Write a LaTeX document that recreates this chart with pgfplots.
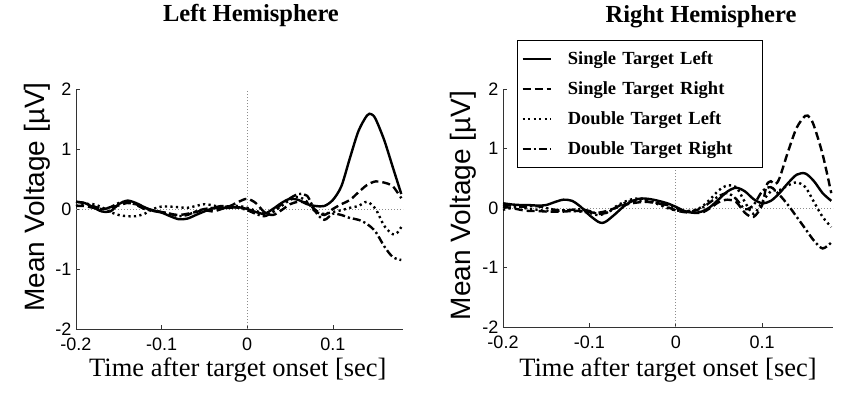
\documentclass[border=0pt]{standalone}
\usepackage{fontspec}
\setmainfont{Liberation Serif}
\newfontfamily\arial{Liberation Sans}
\usepackage{pgfplots}
\pgfplotsset{compat=1.18}

\pgfplotsset{
  erp/.style={
    scale only axis,
    xmin=-0.2, xmax=0.182,
    ymin=-2, ymax=2,
    axis x line*=bottom, axis y line*=left,
    axis line style={-, line width=0.8pt, black!80},
    xtick={-0.2,-0.1,0,0.1},
    xticklabels={-0.2,-0.1,0,0.1},
    ytick={-2,-1,0,1,2},
    yticklabels={-2,-1,0,1,2},
    tick align=inside,
    major tick length=4pt,
    tick style={black!80, line width=0.6pt},
    ticklabel style={font=\arial\fontsize{18}{20}\selectfont},
    xticklabel style={yshift=-5pt},
    yticklabel style={xshift=-1pt},
    xlabel={Time after target onset [sec]},
    ylabel={Mean Voltage [\textmu V]},
    xlabel style={font=\fontsize{26.5}{29}\selectfont},
    ylabel style={font=\arial\fontsize{28}{30}\selectfont},
    title style={font=\bfseries\fontsize{24.5}{27}\selectfont},
    clip=false,
  },
  s1/.style={black, line width=2.4pt, smooth},
  s2/.style={black, line width=2.4pt, smooth, dash pattern=on 8pt off 4pt},
  d1/.style={black, line width=2.4pt, smooth, dash pattern=on 2.2pt off 3.3pt},
  d2/.style={black, line width=2.4pt, smooth, dash pattern=on 8pt off 3pt on 2.2pt off 3pt},
  ref/.style={black!45, line width=0.7pt, dash pattern=on 1.2pt off 1.8pt, forget plot},
}

\begin{document}
\begin{tikzpicture}
\path (0pt,0pt) rectangle (850pt,405pt);
\begin{pgfinterruptboundingbox}
% ---------------- Left Hemisphere ----------------
\begin{axis}[erp,
  at={(76pt,76pt)}, anchor=south west,
  width=327pt, height=240pt,
  title={Left Hemisphere},
  title style={at={(axis description cs:0.535,1.28)}, anchor=center},
  xlabel style={at={(axis description cs:0.495,-0.172)}, anchor=center},
  ylabel style={at={(axis description cs:-0.117,0.55)}, anchor=center},
]
\addplot[ref] coordinates {(0,-2) (0,2)};
\addplot[ref] coordinates {(-0.2,0) (0.182,0)};
% Single Target Left
\addplot[s1] coordinates {
(-0.20,0.12) (-0.19,0.10) (-0.18,0.03) (-0.17,-0.04) (-0.16,-0.04) (-0.15,0.08)
(-0.14,0.14) (-0.13,0.10) (-0.12,0.03) (-0.11,-0.03) (-0.10,-0.06) (-0.09,-0.12)
(-0.08,-0.17) (-0.07,-0.16) (-0.06,-0.10) (-0.05,-0.04) (-0.04,0.01) (-0.03,0.02)
(-0.02,0.02) (-0.01,0.03) (0.00,0.00) (0.01,-0.05) (0.02,-0.08) (0.03,0.00)
(0.04,0.10) (0.05,0.17) (0.06,0.15) (0.07,0.08) (0.08,0.05) (0.09,0.05)
(0.10,0.15) (0.11,0.38) (0.12,0.85) (0.13,1.30) (0.14,1.56) (0.145,1.58)
(0.15,1.50) (0.16,1.15) (0.17,0.70) (0.18,0.25)};
% Single Target Right
\addplot[s2] coordinates {
(-0.20,0.05) (-0.19,0.05) (-0.18,0.02) (-0.17,0.00) (-0.16,0.02) (-0.15,0.06)
(-0.14,0.10) (-0.13,0.08) (-0.12,0.02) (-0.11,-0.02) (-0.10,-0.05) (-0.09,-0.08)
(-0.08,-0.10) (-0.07,-0.08) (-0.06,-0.05) (-0.05,-0.02) (-0.04,-0.04) (-0.03,0.00)
(-0.02,0.05) (-0.01,0.12) (0.00,0.17) (0.01,0.10) (0.02,-0.05) (0.03,-0.10)
(0.04,-0.02) (0.05,0.08) (0.06,0.12) (0.07,0.10) (0.08,-0.02) (0.09,-0.10)
(0.10,0.00) (0.11,0.08) (0.12,0.15) (0.13,0.28) (0.14,0.40) (0.15,0.46)
(0.16,0.44) (0.17,0.38) (0.18,0.18)};
% Double Target Left
\addplot[d1] coordinates {
(-0.20,0.05) (-0.19,0.08) (-0.18,0.08) (-0.17,0.03) (-0.16,-0.05) (-0.15,-0.10)
(-0.14,-0.12) (-0.13,-0.12) (-0.12,-0.08) (-0.11,0.00) (-0.10,0.04) (-0.09,0.04)
(-0.08,0.03) (-0.07,0.02) (-0.06,0.05) (-0.05,0.08) (-0.04,0.06) (-0.03,0.03)
(-0.02,0.05) (-0.01,0.05) (0.00,0.02) (0.01,-0.03) (0.02,-0.08) (0.03,-0.05)
(0.04,0.05) (0.05,0.15) (0.06,0.20) (0.07,0.12) (0.08,-0.05) (0.09,-0.08)
(0.10,-0.05) (0.11,-0.02) (0.12,0.02) (0.13,0.05) (0.14,0.12) (0.15,0.00)
(0.16,-0.28) (0.17,-0.42) (0.175,-0.40) (0.18,-0.30)};
% Double Target Right
\addplot[d2] coordinates {
(-0.20,0.12) (-0.19,0.10) (-0.18,0.05) (-0.17,0.00) (-0.16,0.03) (-0.15,0.10)
(-0.14,0.12) (-0.13,0.07) (-0.12,0.00) (-0.11,-0.03) (-0.10,-0.05) (-0.09,-0.08)
(-0.08,-0.12) (-0.07,-0.10) (-0.06,-0.04) (-0.05,0.00) (-0.04,0.02) (-0.03,0.05)
(-0.02,0.04) (-0.01,0.02) (0.00,-0.02) (0.01,-0.08) (0.02,-0.12) (0.03,-0.05)
(0.04,0.08) (0.05,0.18) (0.06,0.25) (0.07,0.22) (0.08,-0.05) (0.09,-0.18)
(0.10,-0.08) (0.11,-0.10) (0.12,-0.15) (0.13,-0.18) (0.14,-0.25) (0.15,-0.38)
(0.16,-0.62) (0.17,-0.80) (0.18,-0.85)};
\end{axis}

% ---------------- Right Hemisphere ----------------
\begin{axis}[erp,
  at={(503pt,78pt)}, anchor=south west,
  width=330pt, height=238pt,
  title={Right Hemisphere},
  title style={at={(axis description cs:0.6,1.28)}, anchor=center},
  xlabel style={at={(axis description cs:0.5,-0.18)}, anchor=center},
  ylabel style={at={(axis description cs:-0.121,0.51)}, anchor=center},
  legend cell align=left,
  legend style={
    at={(axis description cs:0.042,1.206)}, anchor=north west,
    draw=black, line width=1.2pt,
    font=\bfseries\fontsize{18.5}{21}\selectfont,
    inner xsep=4pt, inner ysep=9pt,
    row sep=11pt,
    nodes={text width=189pt, text depth=2pt},
    /tikz/every odd column/.append style={column sep=14pt},
  },
  legend image code/.code={\draw[#1, line width=2.4pt] (0pt,0pt) -- (28pt,0pt);},
]
\addplot[ref] coordinates {(0,-2) (0,2)};
\addplot[ref] coordinates {(-0.2,0) (0.182,0)};
% Single Target Left
\addplot[s1] coordinates {
(-0.20,0.08) (-0.19,0.06) (-0.18,0.05) (-0.17,0.05) (-0.16,0.04) (-0.15,0.05)
(-0.14,0.10) (-0.13,0.14) (-0.12,0.12) (-0.11,0.02) (-0.10,-0.12) (-0.09,-0.23)
(-0.085,-0.25) (-0.08,-0.22) (-0.07,-0.10) (-0.06,0.03) (-0.05,0.12) (-0.04,0.16)
(-0.03,0.15) (-0.02,0.12) (-0.01,0.08) (0.00,0.02) (0.01,-0.05) (0.02,-0.08)
(0.03,-0.06) (0.04,0.02) (0.05,0.15) (0.06,0.28) (0.07,0.34) (0.08,0.28)
(0.09,0.15) (0.10,0.08) (0.11,0.12) (0.12,0.25) (0.13,0.42) (0.14,0.56)
(0.15,0.58) (0.16,0.45) (0.17,0.25) (0.18,0.12)};
\addlegendentry{Single Target Left}
% Single Target Right
\addplot[s2] coordinates {
(-0.20,0.02) (-0.19,0.00) (-0.18,-0.03) (-0.17,-0.05) (-0.16,-0.05) (-0.15,-0.06)
(-0.14,-0.06) (-0.13,-0.06) (-0.12,-0.05) (-0.11,-0.05) (-0.10,-0.07) (-0.09,-0.08)
(-0.08,-0.05) (-0.07,0.00) (-0.06,0.05) (-0.05,0.08) (-0.04,0.10) (-0.03,0.10)
(-0.02,0.08) (-0.01,0.02) (0.00,-0.04) (0.01,-0.07) (0.02,-0.08) (0.03,-0.08)
(0.04,0.00) (0.05,0.10) (0.06,0.14) (0.07,0.10) (0.08,-0.08) (0.09,-0.15)
(0.10,0.05) (0.105,0.38) (0.11,0.45) (0.115,0.40) (0.12,0.50) (0.13,0.95)
(0.14,1.35) (0.15,1.55) (0.155,1.52) (0.16,1.38) (0.17,0.90) (0.18,0.25)};
\addlegendentry{Single Target Right}
% Double Target Left
\addplot[d1] coordinates {
(-0.20,-0.03) (-0.19,0.00) (-0.18,0.02) (-0.17,-0.02) (-0.16,-0.03) (-0.15,-0.05)
(-0.14,-0.05) (-0.13,-0.04) (-0.12,-0.05) (-0.11,-0.06) (-0.10,-0.08) (-0.09,-0.12)
(-0.08,-0.08) (-0.07,0.02) (-0.06,0.10) (-0.05,0.15) (-0.04,0.16) (-0.03,0.12)
(-0.02,0.06) (-0.01,0.00) (0.00,-0.04) (0.01,-0.05) (0.02,-0.04) (0.03,0.02)
(0.04,0.15) (0.05,0.30) (0.06,0.38) (0.07,0.35) (0.08,0.10) (0.09,-0.10)
(0.10,0.10) (0.11,0.28) (0.12,0.30) (0.13,0.38) (0.14,0.43) (0.15,0.35)
(0.16,0.10) (0.17,-0.15) (0.18,-0.32)};
\addlegendentry{Double Target Left}
% Double Target Right
\addplot[d2] coordinates {
(-0.20,0.05) (-0.19,0.04) (-0.18,0.02) (-0.17,0.03) (-0.16,0.03) (-0.15,0.00)
(-0.14,-0.03) (-0.13,-0.04) (-0.12,-0.03) (-0.11,-0.02) (-0.10,-0.05) (-0.09,-0.10)
(-0.08,-0.08) (-0.07,0.00) (-0.06,0.08) (-0.05,0.12) (-0.04,0.12) (-0.03,0.10)
(-0.02,0.08) (-0.01,0.05) (0.00,0.00) (0.01,-0.05) (0.02,-0.05) (0.03,0.00)
(0.04,0.10) (0.05,0.20) (0.06,0.25) (0.07,0.15) (0.08,-0.02) (0.09,0.05)
(0.10,0.28) (0.11,0.35) (0.12,0.22) (0.13,0.05) (0.14,-0.15) (0.15,-0.35)
(0.16,-0.55) (0.17,-0.68) (0.18,-0.58)};
\addlegendentry{Double Target Right}
\end{axis}
\end{pgfinterruptboundingbox}
\end{tikzpicture}
\end{document}
